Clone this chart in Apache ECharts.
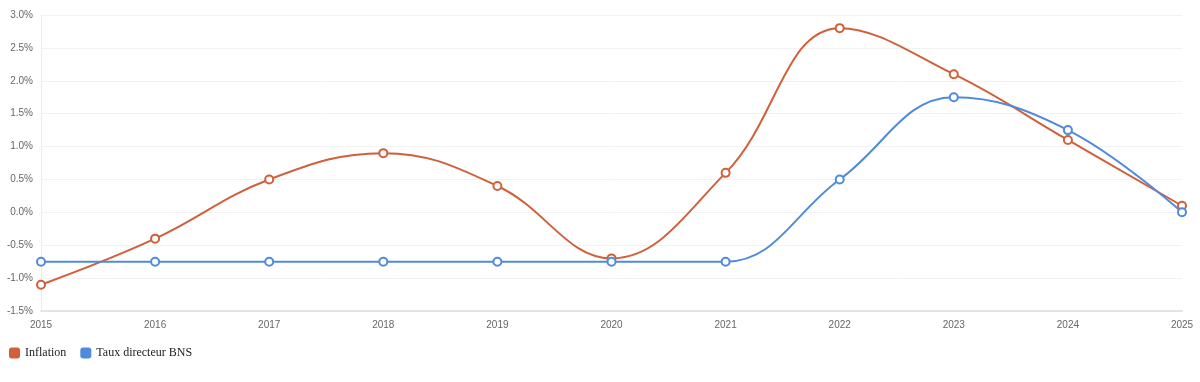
<!DOCTYPE html>
<html><head><meta charset="utf-8">
<script src="https://cdn.jsdelivr.net/npm/echarts@6/dist/echarts.min.js"></script>
<style>html,body{margin:0;padding:0;background:#fff}#c{width:1200px;height:382px}</style>
</head><body><div id="c"></div>
<script>
const years = ['2015','2016','2017','2018','2019','2020','2021','2022','2023','2024','2025'];
const inflation = [-1.1, -0.4, 0.5, 0.9, 0.4, -0.7, 0.6, 2.8, 2.1, 1.1, 0.1];
const tauxBNS = [-0.75, -0.75, -0.75, -0.75, -0.75, -0.75, -0.75, 0.5, 1.75, 1.25, 0.0];
const chart = echarts.init(document.getElementById('c'));
chart.setOption({
  animation: false,
  color: ['#d0603a', '#4f8bdc'],
  grid: {left: 41, right: 18, top: 15, bottom: 71},
  legend: {
    left: 4, top: 342, icon: 'roundRect', itemWidth: 11, itemHeight: 11, itemGap: 14,
    textStyle: {fontFamily: 'Liberation Serif, serif', fontSize: 12, color: '#222'}
  },
  xAxis: {
    type: 'category', data: years, boundaryGap: false,
    axisLine: {onZero: false, lineStyle: {color: '#e4e4e4', width: 2}},
    axisTick: {show: false},
    axisLabel: {color: '#666', fontSize: 10, margin: 9, fontFamily: 'Liberation Sans, Arial, sans-serif'}
  },
  yAxis: {
    type: 'value', min: -1.5, max: 3, interval: 0.5,
    axisLine: {show: true, lineStyle: {color: '#ececec'}},
    axisTick: {show: false},
    splitLine: {lineStyle: {color: '#f2f2f2'}},
    axisLabel: {color: '#666', fontSize: 10, margin: 8, fontFamily: 'Liberation Sans, Arial, sans-serif',
      formatter: v => v.toFixed(1) + '%'}
  },
  series: [
    {name: 'Inflation', type: 'line', data: inflation, smooth: 0.4, symbol: 'emptyCircle', symbolSize: 8,
      lineStyle: {width: 2}, itemStyle: {borderWidth: 2}},
    {name: 'Taux directeur BNS', type: 'line', data: tauxBNS, smooth: 0.4, symbol: 'emptyCircle', symbolSize: 8,
      lineStyle: {width: 2}, itemStyle: {borderWidth: 2}}
  ]
});
</script></body></html>
